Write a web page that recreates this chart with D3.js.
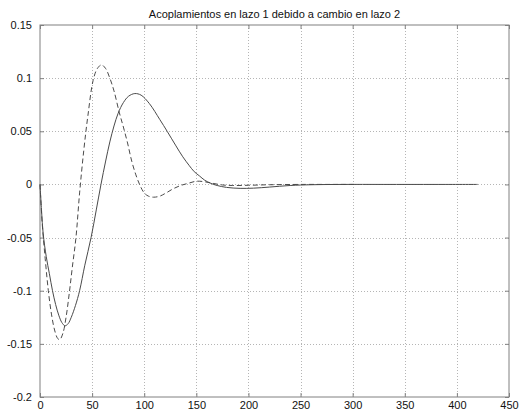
<!DOCTYPE html>
<html>
<head>
<meta charset="utf-8">
<script src="https://cdn.jsdelivr.net/npm/d3@7"></script>
<style>
  body { margin: 0; background: #fff; }
  svg { display: block; }
  text { font-family: "Liberation Sans", Arial, sans-serif; }
</style>
</head>
<body>
<div id="chart"></div>
<script>
// datos
const title = 'Acoplamientos en lazo 1 debido a cambio en lazo 2'
const xTicks = [0, 50, 100, 150, 200, 250, 300, 350, 400, 450]
const yTicks = [-0.2, -0.15, -0.1, -0.05, 0, 0.05, 0.1, 0.15]

// curva continua (lazo 1)
const solidX = [0, 1.5, 3, 6, 9, 12, 15, 18, 21, 24, 27, 30, 34, 38, 43, 49, 54, 58.5, 63, 67, 71, 75, 80, 85, 91, 97, 105, 115, 122, 130, 137, 143, 148, 153, 158, 164, 170, 179, 192, 205, 220, 240, 260, 290, 330, 380, 420]
const solidY = [0, -0.025, -0.046, -0.068, -0.084, -0.1, -0.113, -0.123, -0.13, -0.133, -0.131, -0.125, -0.114, -0.1, -0.076, -0.05, -0.024, 0, 0.022, 0.04, 0.055, 0.067, 0.077, 0.083, 0.0855, 0.084, 0.076, 0.061, 0.05, 0.037, 0.026, 0.018, 0.012, 0.008, 0.004, 0.001, -0.001, -0.0028, -0.0037, -0.0035, -0.0025, -0.001, -0.0003, 0, 0, 0, 0]

// curva discontinua
const dashedX = [0, 2, 5, 8, 11, 14, 17, 19, 22, 25, 28, 31, 34.5, 38, 42, 46, 51, 55, 59, 63, 67, 71, 76, 80, 84, 88, 92, 96, 100, 104, 109, 115, 121, 128, 135, 142, 150, 158, 166, 175, 185, 200, 220, 250, 280, 302]
const dashedY = [0, -0.035, -0.07, -0.1, -0.122, -0.137, -0.145, -0.146, -0.14, -0.125, -0.103, -0.078, -0.05, -0.008, 0.032, 0.065, 0.098, 0.109, 0.1125, 0.109, 0.1, 0.088, 0.068, 0.054, 0.039, 0.022, 0.009, -0.001, -0.008, -0.011, -0.012, -0.011, -0.008, -0.004, -0.001, 0.001, 0.003, 0.0025, 0.001, -0.0005, -0.001, -0.0008, -0.0003, 0, 0, 0]

const width = 519
const height = 413
const margin = { top: 25, right: 10, bottom: 16, left: 40 }

const x = d3.scaleLinear().domain([0, 450]).range([margin.left, width - margin.right])
const y = d3.scaleLinear().domain([-0.2, 0.15]).range([height - margin.bottom, margin.top])

const svg = d3.select('#chart').append('svg').attr('width', width).attr('height', height)

const fmt = (d) => String(Math.round(d * 1000) / 1000)

// rejilla punteada
const grid = svg.append('g').attr('stroke', '#b5b5b5').attr('stroke-width', 1).attr('stroke-dasharray', '1,2')
grid
  .selectAll('.gx')
  .data(xTicks.slice(1, -1))
  .enter()
  .append('line')
  .attr('x1', (d) => Math.round(x(d)) + 0.5)
  .attr('x2', (d) => Math.round(x(d)) + 0.5)
  .attr('y1', y(0.15))
  .attr('y2', y(-0.2))
grid
  .selectAll('.gy')
  .data(yTicks.slice(1, -1))
  .enter()
  .append('line')
  .attr('y1', (d) => Math.round(y(d)) + 0.5)
  .attr('y2', (d) => Math.round(y(d)) + 0.5)
  .attr('x1', x(0))
  .attr('x2', x(450))

// ejes con marcas hacia dentro, en los cuatro lados
const axisColor = '#808080'
const styleAxis = (g) => {
  g.select('.domain').remove()
  g.selectAll('line').attr('stroke', axisColor)
  g.selectAll('text').attr('fill', '#111').style('font-size', '11px')
}
svg
  .append('g')
  .attr('transform', `translate(0,${y(-0.2)})`)
  .call(d3.axisBottom(x).tickValues(xTicks).tickSize(-4).tickPadding(4).tickFormat(fmt))
  .call(styleAxis)
svg
  .append('g')
  .attr('transform', `translate(0,${y(0.15)})`)
  .call(d3.axisTop(x).tickValues(xTicks).tickSize(-4).tickFormat(''))
  .call(styleAxis)
svg
  .append('g')
  .attr('transform', `translate(${x(0)},0)`)
  .call(d3.axisLeft(y).tickValues(yTicks).tickSize(-4).tickPadding(8).tickFormat(fmt))
  .call(styleAxis)
svg
  .append('g')
  .attr('transform', `translate(${x(450)},0)`)
  .call(d3.axisRight(y).tickValues(yTicks).tickSize(-4).tickFormat(''))
  .call(styleAxis)

svg
  .append('rect')
  .attr('x', x(0))
  .attr('y', y(0.15))
  .attr('width', x(450) - x(0))
  .attr('height', y(-0.2) - y(0.15))
  .attr('fill', 'none')
  .attr('stroke', axisColor)
  .attr('stroke-width', 1)

// curvas
const line = d3
  .line()
  .curve(d3.curveCatmullRom.alpha(0.5))
  .x((d) => x(d[0]))
  .y((d) => y(d[1]))

svg
  .append('path')
  .datum(solidX.map((v, i) => [v, solidY[i]]))
  .attr('fill', 'none')
  .attr('stroke', '#4a4a4a')
  .attr('stroke-width', 1)
  .attr('d', line)

svg
  .append('path')
  .datum(dashedX.map((v, i) => [v, dashedY[i]]))
  .attr('fill', 'none')
  .attr('stroke', '#4a4a4a')
  .attr('stroke-width', 1)
  .attr('stroke-dasharray', '5,3')
  .attr('d', line)

svg
  .append('text')
  .attr('x', (x(0) + x(450)) / 2)
  .attr('y', 18)
  .attr('text-anchor', 'middle')
  .attr('fill', '#111')
  .style('font-size', '11px')
  .text(title)
</script>
</body>
</html>
